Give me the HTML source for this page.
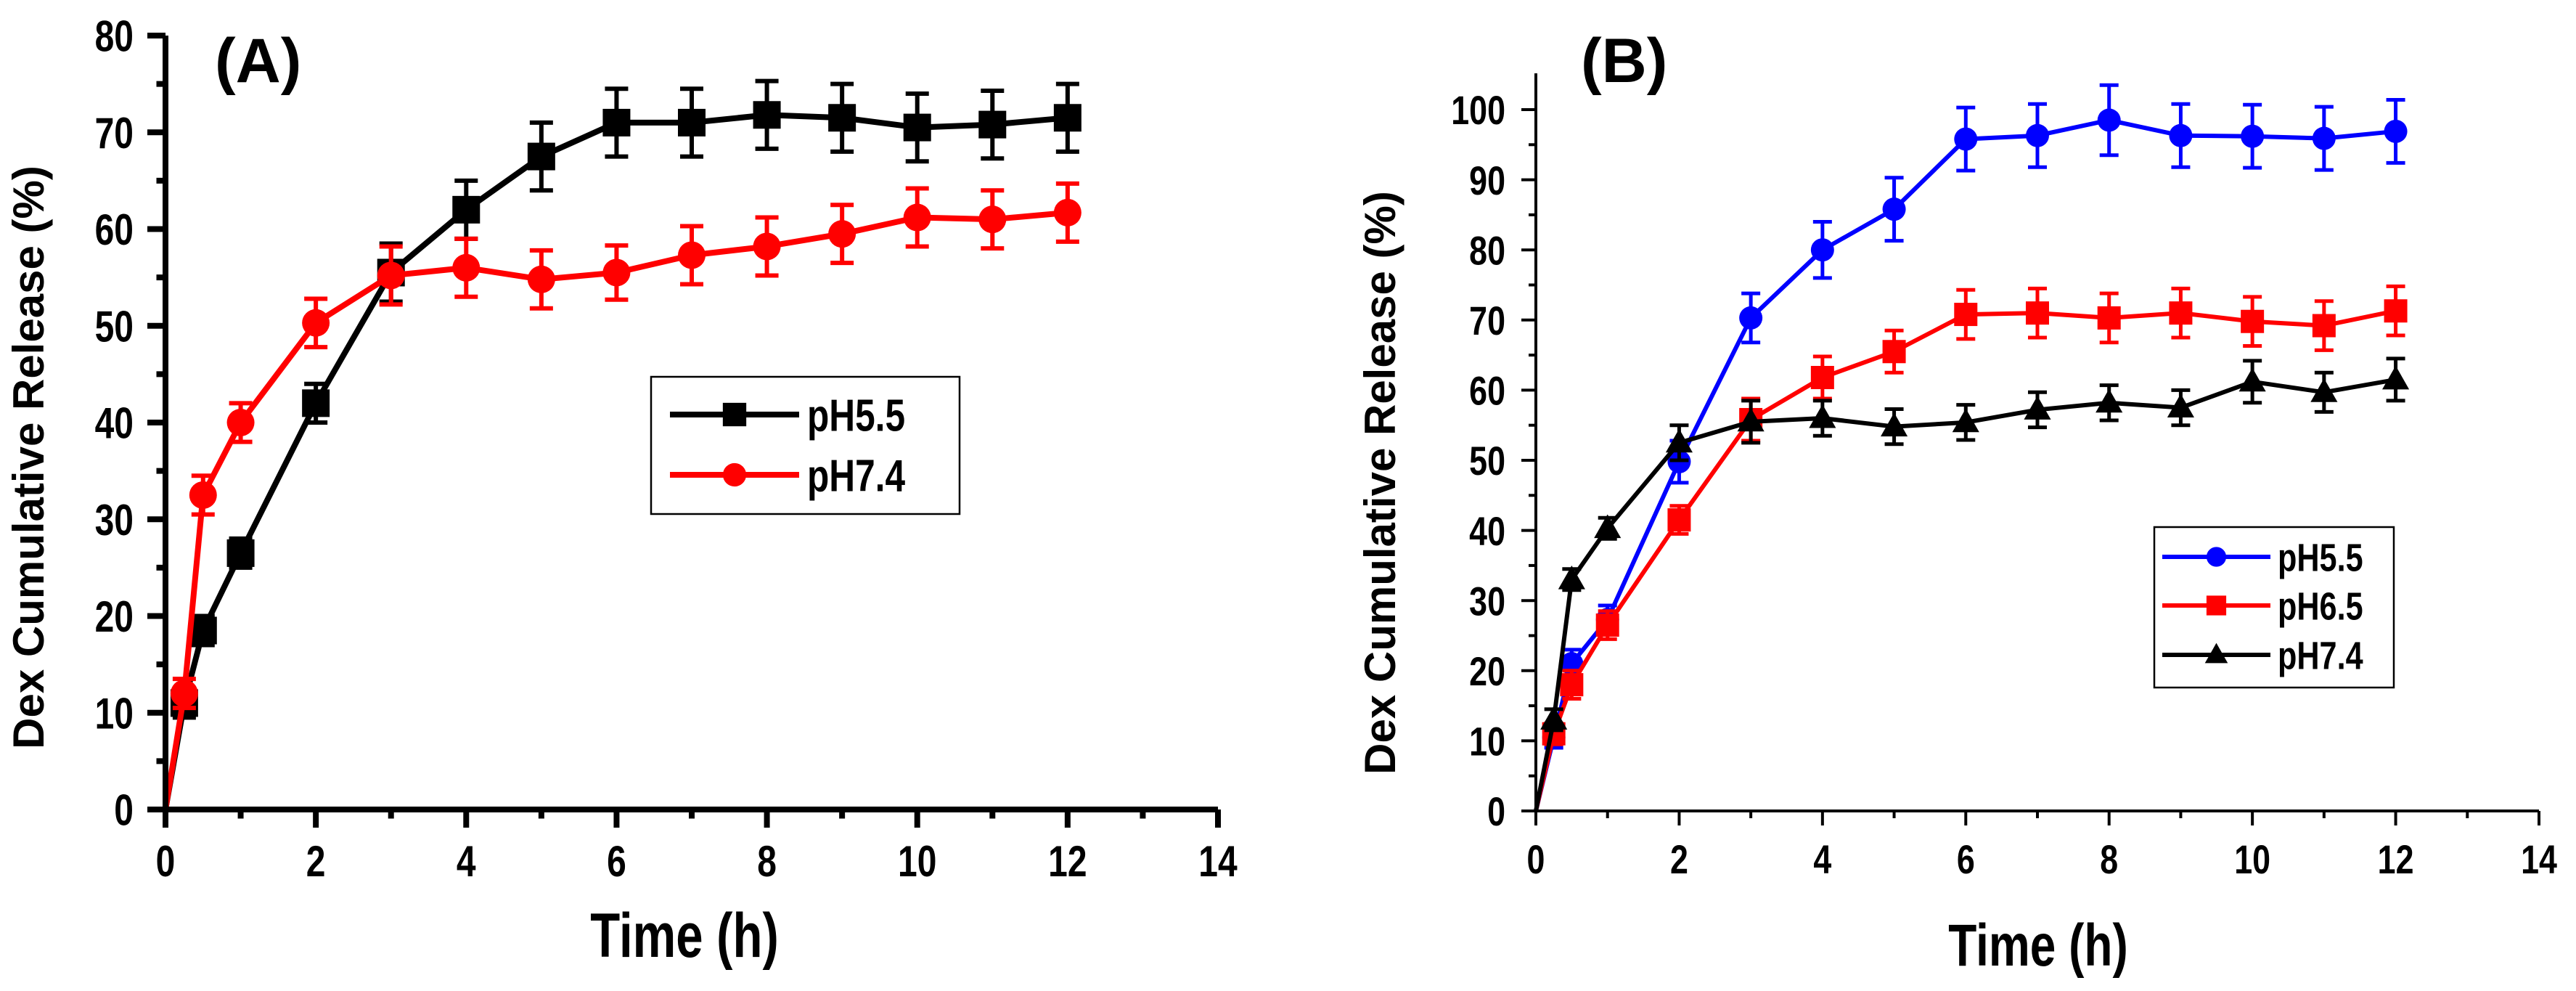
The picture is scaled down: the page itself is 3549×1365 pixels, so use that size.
<!DOCTYPE html>
<html><head><meta charset="utf-8"><style>
html,body{margin:0;padding:0;background:#fff;}
svg{display:block;}
text{font-family:"Liberation Sans Narrow","Liberation Sans",sans-serif;font-weight:bold;fill:#000;}
.t{font-family:"Liberation Sans",sans-serif;}
</style></head><body>
<svg id="fig" width="3549" height="1365" viewBox="0 0 3549 1365" xmlns="http://www.w3.org/2000/svg"></svg>
<script>
const times = [0,0.25,0.5,1,2,3,4,5,6,7,8,9,10,11,12];
const aPH55 = [0,11,18.5,26.5,42,55.5,62,67.5,71,71,71.8,71.5,70.5,70.8,71.5];
const aPH55Err = [0,1.5,1.5,1.5,2,3,3,3.5,3.5,3.5,3.5,3.5,3.5,3.5,3.5];
const aPH74 = [0,12,32.5,40,50.3,55.2,56,54.8,55.5,57.3,58.2,59.5,61.2,61,61.7];
const aPH74Err = [0,1.5,2,2,2.5,3,3,3,2.8,3,3,3,3,3,3];
const bPH55 = [0,10.5,21,27.3,49.8,70.3,80,85.8,95.8,96.3,98.5,96.3,96.2,95.9,96.9];
const bPH55Err = [0,1.5,2,2,3,3.5,4,4.5,4.5,4.5,5,4.5,4.5,4.5,4.5];
const bPH65 = [0,11,18,26.5,41.5,55.8,61.8,65.5,70.8,71,70.3,71,69.8,69.2,71.3];
const bPH65Err = [0,1.5,2,2,2,3,3,3,3.5,3.5,3.5,3.5,3.5,3.5,3.5];
const bPH74 = [0,13,33,40.3,52.5,55.5,56,54.8,55.4,57.2,58.2,57.5,61.2,59.7,61.5];
const bPH74Err = [0,1.5,1.5,1.5,2.5,3,2.5,2.5,2.5,2.5,2.5,2.5,3,2.8,3];
const xTicks = [0,2,4,6,8,10,12,14];
const aYTicks = [0,10,20,30,40,50,60,70,80];
const bYTicks = [0,10,20,30,40,50,60,70,80,90,100];

const NS="http://www.w3.org/2000/svg";
const svg=document.getElementById('fig');
const SX=0.8;
function el(tag,attrs,parent){const e=document.createElementNS(NS,tag);for(const k in attrs)e.setAttribute(k,attrs[k]);(parent||svg).appendChild(e);return e;}
function ctext(parent,x,y,anchor,fs,str,sx){
  const t=el('text',{x:0,y:0,'text-anchor':anchor,'font-size':fs,transform:`translate(${x},${y}) scale(${sx||SX},1)`},parent);
  t.textContent=str;return t;
}

function marker(g,shape,cx,cy,s,color){
  let m;
  if(shape==='square') m=el('rect',{x:cx-s/2,y:cy-s/2,width:s,height:s,fill:color},g);
  else if(shape==='circle') m=el('circle',{cx:cx,cy:cy,r:s/2,fill:color},g);
  else m=el('polygon',{points:`${cx},${cy-s*0.6} ${cx-s*0.58},${cy+s*0.42} ${cx+s*0.58},${cy+s*0.42}`,fill:color},g);
  return m;
}

function panel(cfg){
  const X=v=>cfg.x0+(v-0)*(cfg.x1-cfg.x0)/14;
  const Y=v=>cfg.y0-(v)*(cfg.y0-cfg.y1)/cfg.ymax;
  const g=el('g',{});
  
  
  cfg.series.forEach(s=>{
    const sg=el('g',{},g);
    
    
    const pts=times.map((t,i)=>X(t)+','+Y(s.vals[i])).join(' ');
    const ln=el('polyline',{points:pts,fill:'none',stroke:s.color,'stroke-width':cfg.lw,'stroke-linejoin':'round'},sg);
    
    
    times.forEach((t,i)=>{
      const e=s.err[i];
      if(e>0){
        const cx=X(t),yt=Y(s.vals[i]+e),yb=Y(s.vals[i]-e);
        const eb=el('path',{d:`M${cx},${yt}V${yb}M${cx-cfg.cap},${yt}H${cx+cfg.cap}M${cx-cfg.cap},${yb}H${cx+cfg.cap}`,stroke:s.color,'stroke-width':cfg.ew,fill:'none'},sg);
        
        
      }
      if(i>0){
        const m=marker(sg,s.shape,X(t),Y(s.vals[i]),cfg.ms,s.color);
        
        
      }
    });
  });
  const ax=el('path',{d:`M${cfg.x0},${cfg.ytop}V${cfg.y0}H${cfg.x1}`,stroke:'#000','stroke-width':cfg.aw,fill:'none'},g);
  
  
  for(let v=0;v<=14;v++){
    const L=(v%2===0)?cfg.maj:cfg.maj*0.5;
    const tk=el('line',{x1:X(v),x2:X(v),y1:cfg.y0,y2:cfg.y0+L,stroke:'#000','stroke-width':cfg.aw},g);
    
    
  }
  xTicks.forEach(v=>{
    const t=ctext(g,X(v),cfg.y0+cfg.xlabDy,'middle',cfg.fs,v);
    
    
  });
  for(let v=0;v<=cfg.ymax;v+=5){
    const L=(v%10===0)?cfg.maj:cfg.maj*0.5;
    const tk=el('line',{x1:cfg.x0-L,x2:cfg.x0,y1:Y(v),y2:Y(v),stroke:'#000','stroke-width':cfg.aw},g);
    
    
  }
  cfg.yticks.forEach(v=>{
    const t=ctext(g,cfg.ylabX,Y(v)+cfg.fs*0.36,'end',cfg.fs,v);
    
    
  });
  const yt=el('text',{x:0,y:0,'text-anchor':'middle','font-size':cfg.ytfs,class:'t',transform:`translate(${cfg.ytX},${cfg.ytY}) rotate(-90)`},g);
  yt.textContent='Dex Cumulative Release (%)';
  
  
  const xt=ctext(g,cfg.xtX,cfg.xtY,'middle',cfg.xtfs,'Time (h)',0.78);
  
  
  const pl=el('text',{x:cfg.plX,y:cfg.plY,'font-size':86,class:'t'},g);
  pl.textContent=cfg.label;
  
  
  const lg=el('g',{},g);
  
  
  const L=cfg.leg;
  el('rect',{x:L.x,y:L.y,width:L.w,height:L.h,fill:'#fff',stroke:'#000','stroke-width':2.5},lg);
  cfg.series.forEach((s,i)=>{
    const ry=L.rows[i];
    const le=el('g',{},lg);
    
    
    el('line',{x1:L.lx1,x2:L.lx2,y1:ry,y2:ry,stroke:s.color,'stroke-width':cfg.lw},le);
    marker(le,s.shape,(L.lx1+L.lx2)/2,ry,cfg.ms*0.85,s.color);
    ctext(le,L.tx,ry+L.fs*0.36,'start',L.fs,s.label);
  });
}

panel({name:'panel-a',label:'(A)',x0:228,x1:1678,y0:1115,y1:49,ymax:80,ytop:49,aw:8,lw:8,ew:6,cap:16,ms:38,maj:25,fs:60,
  xlabDy:92,ylabX:184,yticks:aYTicks,ytX:60,ytY:630,ytfs:60,xtX:943,xtY:1318,xtfs:86,plX:296,plY:113,
  leg:{x:897,y:519,w:425,h:189,rows:[571,654],lx1:923,lx2:1101,tx:1112,fs:62},
  series:[
    {name:'series-ph55',label:'pH5.5',color:'#000',shape:'square',vals:aPH55,err:aPH55Err},
    {name:'series-ph74',label:'pH7.4',color:'#f00',shape:'circle',vals:aPH74,err:aPH74Err}
  ]});
panel({name:'panel-b',label:'(B)',x0:2116,x1:3498,y0:1117,y1:151,ymax:100,ytop:101,aw:4,lw:6,ew:5,cap:13,ms:32,maj:20,fs:56,
  xlabDy:86,ylabX:2074,yticks:bYTicks,ytX:1922,ytY:665,ytfs:60,xtX:2808,xtY:1330,xtfs:82,plX:2178,plY:113,
  leg:{x:2968,y:726,w:330,h:221,rows:[767,834,902],lx1:2979,lx2:3128,tx:3138,fs:54},
  series:[
    {name:'series-ph55',label:'pH5.5',color:'#00f',shape:'circle',vals:bPH55,err:bPH55Err},
    {name:'series-ph65',label:'pH6.5',color:'#f00',shape:'square',vals:bPH65,err:bPH65Err},
    {name:'series-ph74',label:'pH7.4',color:'#000',shape:'triangle',vals:bPH74,err:bPH74Err}
  ]});
</script>
</body></html>
